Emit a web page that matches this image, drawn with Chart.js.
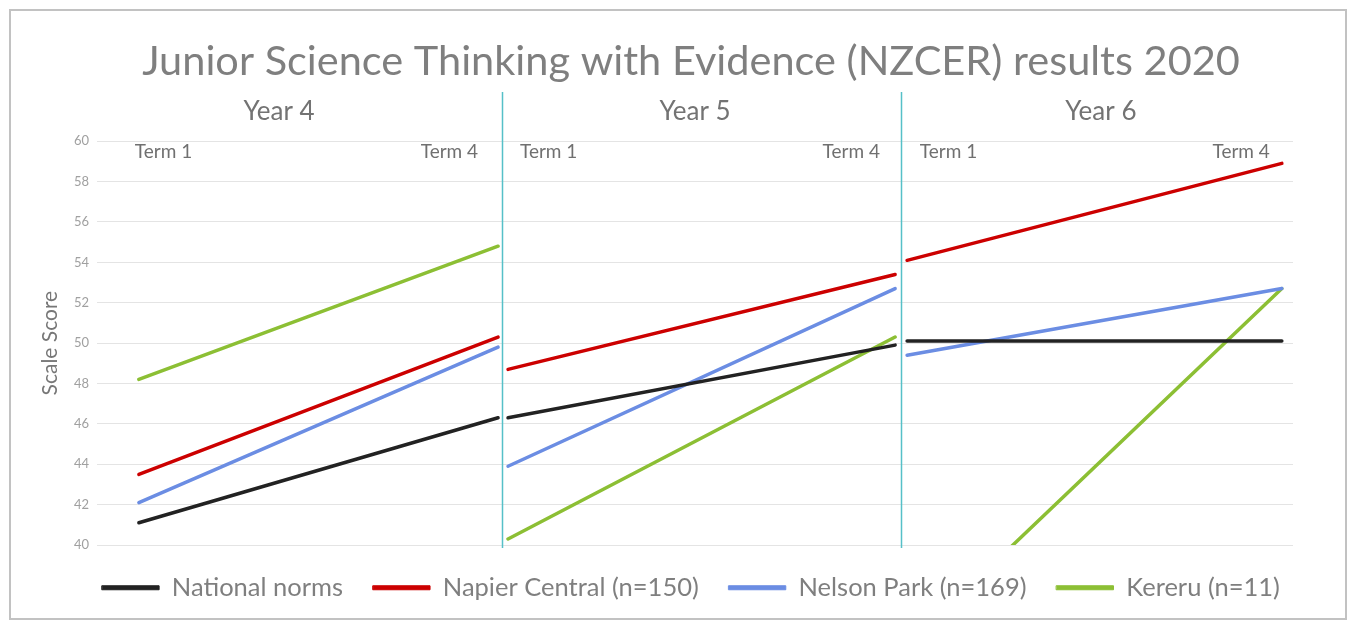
<!DOCTYPE html>
<html>
<head>
<meta charset="utf-8">
<script src="https://cdn.jsdelivr.net/npm/chart.js@4.4.1/dist/chart.umd.min.js"></script>
<style>
  html, body { margin: 0; padding: 0; background: #ffffff; }
  #wrap { position: relative; width: 1351px; height: 622px; }
  canvas { display: block; }
</style>
</head>
<body>
<div id="wrap"><canvas id="c" width="1351" height="622"></canvas></div>
<script>
// ---------------- DATA ----------------
const chartTitle = "Junior Science Thinking with Evidence (NZCER) results 2020";
const years = ["Year 4", "Year 5", "Year 6"];
const terms = ["Term 1", "Term 4"];
const yAxisTitle = "Scale Score";
const yMin = 40, yMax = 60, yStep = 2;

const seriesNames = ["National norms", "Napier Central (n=150)", "Nelson Park (n=169)", "Kereru (n=11)"];
// values per year: [Y4 T1, Y4 T4, Y5 T1, Y5 T4, Y6 T1, Y6 T4]
const nationalNorms = [41.1, 46.3, 46.3, 49.9, 50.1, 50.1];
const napierCentral = [43.5, 50.3, 48.7, 53.4, 54.1, 58.9];
const nelsonPark    = [42.1, 49.8, 43.9, 52.7, 49.4, 52.7];
const kereru        = [48.2, 54.8, 40.3, 50.3, 35.0, 52.7];

// ---------------- LAYOUT (x-scale units, one panel ~ one unit) ----------------
const termX      = [[0.105, 1.006], [1.031, 2.002], [2.032, 2.972]];
const termLabelX = [[0.095, 0.956], [1.061, 1.964], [2.064, 2.942]];
const headerX    = [0.4565, 1.500, 2.518];
const separatorX = [1.0159, 2.0167];

const seriesColors = ["#222222", "#cc0000", "#6b8de3", "#8cbf34"];
const seriesValues = [nationalNorms, napierCentral, nelsonPark, kereru];

function buildPoints(values) {
  const pts = [];
  years.forEach((y, i) => {
    terms.forEach((t, j) => pts.push({ x: termX[i][j], y: values[i * 2 + j] }));
    if (i < years.length - 1) pts.push({ x: separatorX[i], y: null });
  });
  return pts;
}

const datasets = seriesNames.map((name, k) => ({
  label: name,
  data: buildPoints(seriesValues[k]),
  borderColor: seriesColors[k],
  backgroundColor: seriesColors[k],
  borderWidth: 3.5,
  borderCapStyle: 'round',
  pointRadius: 0,
  pointHoverRadius: 0,
  tension: 0,
  spanGaps: false,
  clip: { left: 10, right: 10, top: 10, bottom: 0 }
}));

const FONT = "Lato, 'Open Sans', sans-serif";

const decor = {
  id: 'decor',
  beforeDatasetsDraw(chart) {
    const ctx = chart.ctx, xs = chart.scales.x;
    ctx.save();
    ctx.strokeStyle = '#56c0c8';
    ctx.lineWidth = 1.5;
    separatorX.forEach(v => {
      const px = Math.round(xs.getPixelForValue(v)) + 0.5;
      ctx.beginPath();
      ctx.moveTo(px, 92);
      ctx.lineTo(px, 548);
      ctx.stroke();
    });
    ctx.restore();
  },
  afterDraw(chart) {
    const ctx = chart.ctx, xs = chart.scales.x, area = chart.chartArea;
    ctx.save();
    // panel headers
    ctx.fillStyle = '#737373';
    ctx.font = "26px " + FONT;
    ctx.textAlign = 'center';
    ctx.textBaseline = 'middle';
    years.forEach((y, i) => ctx.fillText(y, xs.getPixelForValue(headerX[i]), 112));
    // term labels
    ctx.fillStyle = '#707070';
    ctx.font = "19px " + FONT;
    years.forEach((y, i) => {
      ctx.textAlign = 'left';
      ctx.fillText(terms[0], xs.getPixelForValue(termLabelX[i][0]), area.top + 11);
      ctx.textAlign = 'right';
      ctx.fillText(terms[1], xs.getPixelForValue(termLabelX[i][1]), area.top + 11);
    });
    // outer frame
    ctx.strokeStyle = '#c2c2c2';
    ctx.lineWidth = 2;
    ctx.strokeRect(10, 10, 1336, 609);
    ctx.restore();
  }
};

new Chart(document.getElementById('c'), {
  type: 'line',
  data: { datasets },
  plugins: [decor],
  options: {
    responsive: false,
    animation: false,
    events: [],
    layout: { padding: { left: 36, right: 5, top: 0, bottom: 11.5 } },
    scales: {
      x: { type: 'linear', min: 0, max: 3, display: false },
      y: {
        min: yMin, max: yMax,
        ticks: { stepSize: yStep, color: '#a0a0a0', font: { family: FONT, size: 13 }, padding: 8 },
        grid: { color: '#e4e4e4', drawTicks: false, lineWidth: 1 },
        border: { display: false },
        title: { display: true, text: yAxisTitle, color: '#777777', font: { family: FONT, size: 21 }, padding: { top: 1.5, bottom: 0 } },
        afterFit(s) { s.width = 61; }
      },
      yR: {
        position: 'right', min: 0, max: 1,
        ticks: { display: false }, grid: { display: false }, border: { display: false },
        afterFit(s) { s.width = 53; }
      }
    },
    plugins: {
      title: {
        display: true, text: chartTitle, color: '#7f7f7f',
        font: { family: FONT, size: 41.5, weight: 'normal' },
        padding: { top: 37, bottom: 54.4 }
      },
      legend: {
        position: 'bottom',
        labels: {
          color: '#7f7f7f',
          font: { family: FONT, size: 25.5 },
          boxWidth: 57, boxHeight: 4, padding: 30,
          generateLabels(chart) {
            return Chart.defaults.plugins.legend.labels.generateLabels(chart).map(l => Object.assign(l, { lineWidth: 1 }));
          }
        }
      },
      tooltip: { enabled: false }
    }
  }
});
</script>
</body>
</html>
